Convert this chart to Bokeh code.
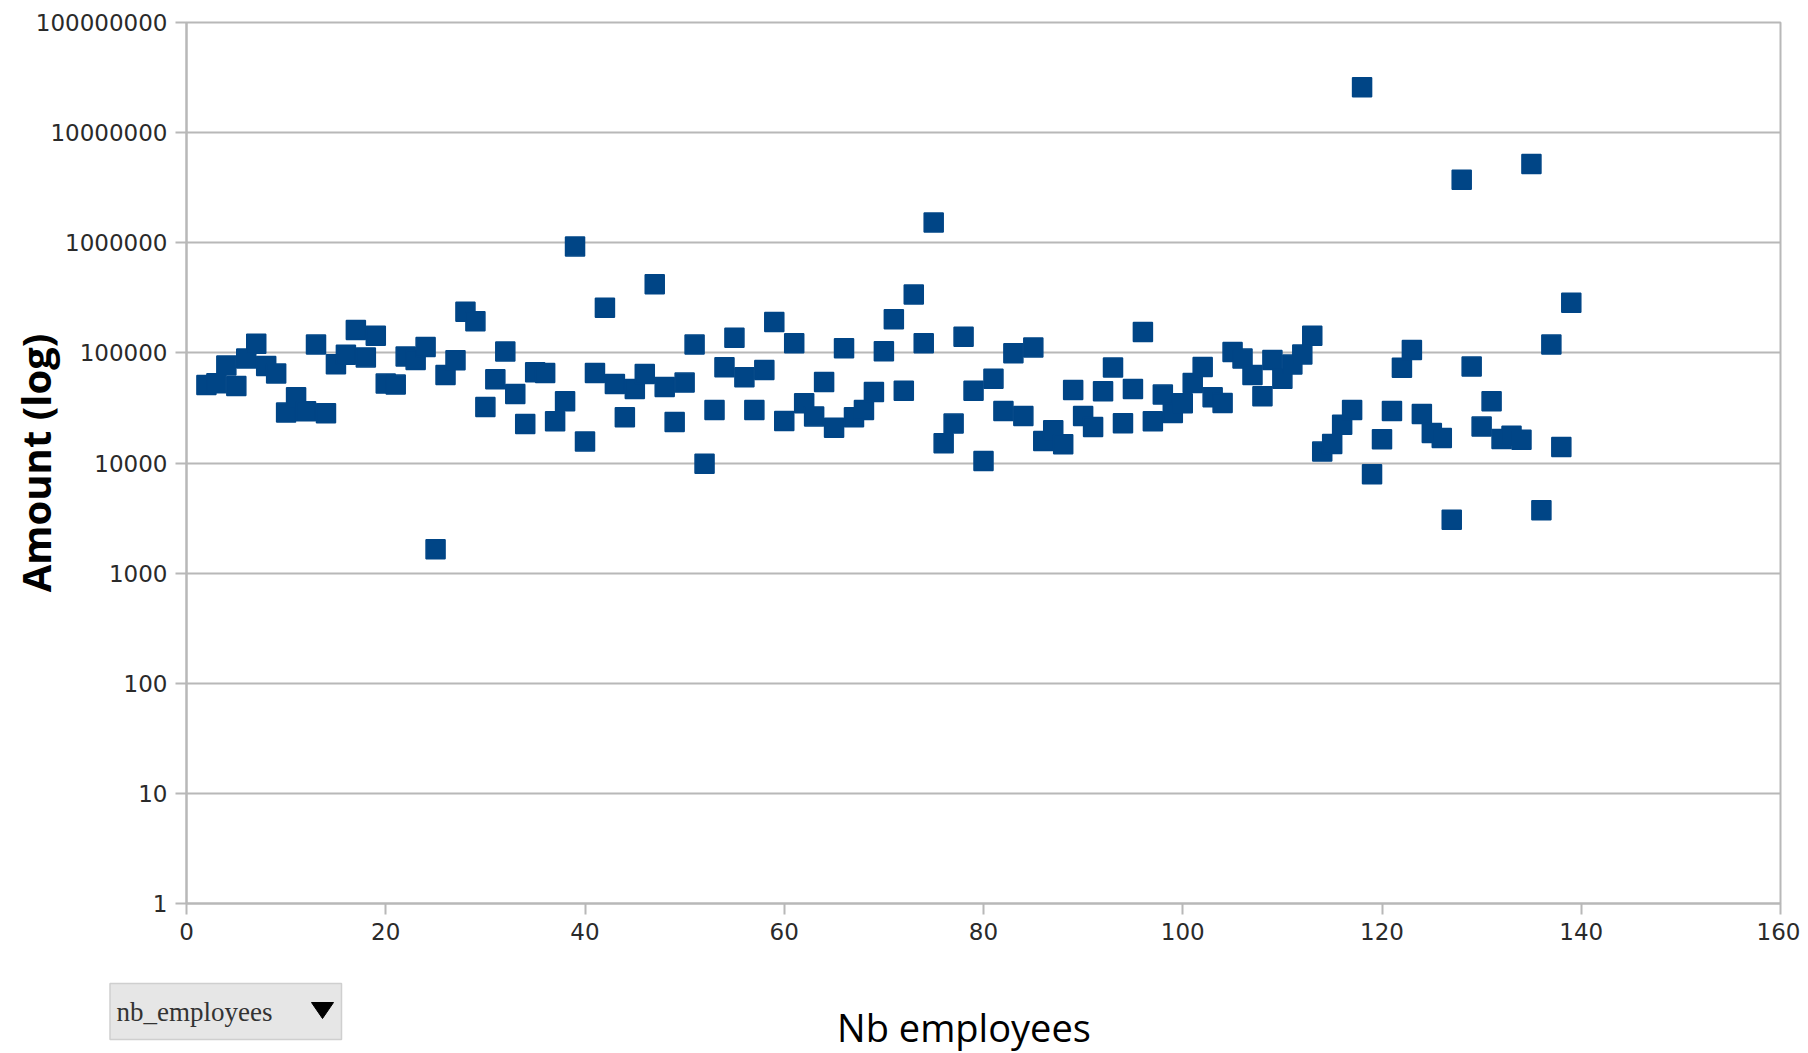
import math
from bokeh.plotting import figure
from bokeh.layouts import column
from bokeh.models import Range1d, FixedTicker
from bokeh.core.properties import value
from bokeh.embed import file_html
from bokeh.resources import INLINE

# ---- data ----
nb_employees = list(range(2, 140))
amounts = [
    51000, 53000, 77000, 50000, 89000, 121000, 76000, 65000, 28700, 39500,      # 2-11
    29500, 119000, 28300, 79000, 96000, 161000, 91000, 143000, 52600, 51500,    # 12-21
    92700, 86000, 113000, 1650, 63000, 85800, 236000, 194000, 32300, 57500,     # 22-31
    103000, 42400, 22600, 66700, 65800, 23900, 36300, 927000, 15700, 65800,     # 32-41
    257000, 52300, 26000, 47100, 64400, 421000, 49100, 23600, 53700, 119000,    # 42-51
    9860, 30300, 74100, 137000, 60100, 30300, 70000, 191000, 24100, 122000,     # 52-61
    34800, 26500, 54500, 20900, 110000, 26000, 30300, 44200, 103600, 202000,    # 62-71
    45200, 339000, 122000, 1530000, 15100, 22800, 140000, 45200, 10400, 58100,  # 72-81
    29700, 99300, 26700, 112000, 15800, 19800, 14800, 46100, 26700, 21200,      # 82-91
    44900, 73600, 23000, 47100, 155000, 23900, 41800, 28500, 34800, 53300,      # 92-101
    74600, 39500, 35100, 102000, 88700, 63100, 40400, 86300, 58100, 78300,      # 102-111
    96600, 143000, 12700, 14900, 22300, 30300, 25800000, 7890, 16400, 29700,    # 112-121
    73100, 106000, 27900, 18700, 16900, 3050, 3740000, 75100, 21400, 36300,     # 122-131
    16500, 17700, 16300, 5190000, 3720, 119000, 14000, 285000,                  # 132-139
]
x_ticks = [0, 20, 40, 60, 80, 100, 120, 140, 160]
y_ticks = [1, 10, 100, 1000, 10000, 100000, 1000000, 10000000, 100000000]
y_tick_labels = ["1", "10", "100", "1000", "10000", "100000", "1000000",
                 "10000000", "100000000"]
x_title = "Nb employees"
y_title = "Amount (log)"
field_button = "nb_employees"

GRID = "#b8b8b8"
BLUE = "#004586"
W = 1800
H_MAIN = 955
H_FOOT = 98
TOP_FOOT = H_MAIN  # page y where the footer strip starts

p = figure(width=W, height=H_MAIN,
           x_range=Range1d(0, 160), y_range=Range1d(1, 1e8),
           y_axis_type="log", output_backend="svg", toolbar_location=None,
           min_border_left=186, min_border_right=20,
           min_border_top=22, min_border_bottom=H_MAIN - 903)
p.frame_align = False

p.scatter(nb_employees, amounts, marker="square", size=19,
          fill_color=BLUE, line_color=BLUE, line_width=1.5)

p.xaxis.ticker = FixedTicker(ticks=x_ticks, minor_ticks=[])
p.yaxis.ticker = FixedTicker(ticks=y_ticks, minor_ticks=[])
p.yaxis.major_label_overrides = {t: s for t, s in zip(y_ticks, y_tick_labels)}

p.xgrid.visible = False
p.ygrid.grid_line_color = GRID
p.ygrid.grid_line_width = 2

p.axis.axis_line_color = GRID
p.axis.axis_line_width = 2
p.axis.major_tick_line_color = GRID
p.axis.major_tick_line_width = 2
p.axis.major_tick_in = 0
p.axis.major_tick_out = 11
p.axis.minor_tick_line_color = None
p.axis.major_label_text_font = "DejaVu Sans"
p.axis.major_label_text_font_size = "23px"
p.axis.major_label_text_color = "#2a2a2a"
p.yaxis.major_label_standoff = 8
p.xaxis.major_label_standoff = 8

p.yaxis.axis_label = y_title
p.yaxis.axis_label_text_font = "Open Sans"
p.yaxis.axis_label_text_font_style = "bold"
p.yaxis.axis_label_text_font_size = "40px"
p.yaxis.axis_label_text_color = "black"
p.yaxis.axis_label_standoff = -30

p.outline_line_color = GRID
p.outline_line_width = 2

# ---- footer strip: field button and x-axis title (coordinates in page pixels) ----
f = figure(width=W, height=H_FOOT,
           x_range=Range1d(0, W), y_range=Range1d(TOP_FOOT + H_FOOT, TOP_FOOT),
           output_backend="svg", toolbar_location=None,
           x_axis_location=None, y_axis_location=None,
           min_border_left=0, min_border_right=0, min_border_top=0, min_border_bottom=0)
f.frame_align = False
f.grid.visible = False
f.outline_line_color = None

f.quad(left=[109.5], right=[341], top=[983], bottom=[1039],
       fill_color="#e6e6e6", line_color="#cfcfcf", line_width=1.5)
f.text(x=[116], y=[1011], text=[field_button], text_align="left",
       text_baseline="middle", text_font=value("Liberation Serif"),
       text_font_size="27px", text_color="#333333")
f.patch(x=[311, 333, 322], y=[1002, 1002, 1018], fill_color="black",
        line_color="black", line_width=1)
f.text(x=[963.5], y=[1026], text=[x_title], text_align="center",
       text_baseline="middle", text_font=value("Open Sans"),
       text_font_size="38px", text_color="black")

layout = column(p, f, spacing=0)
open("out.html", "w").write(file_html(layout, INLINE))
